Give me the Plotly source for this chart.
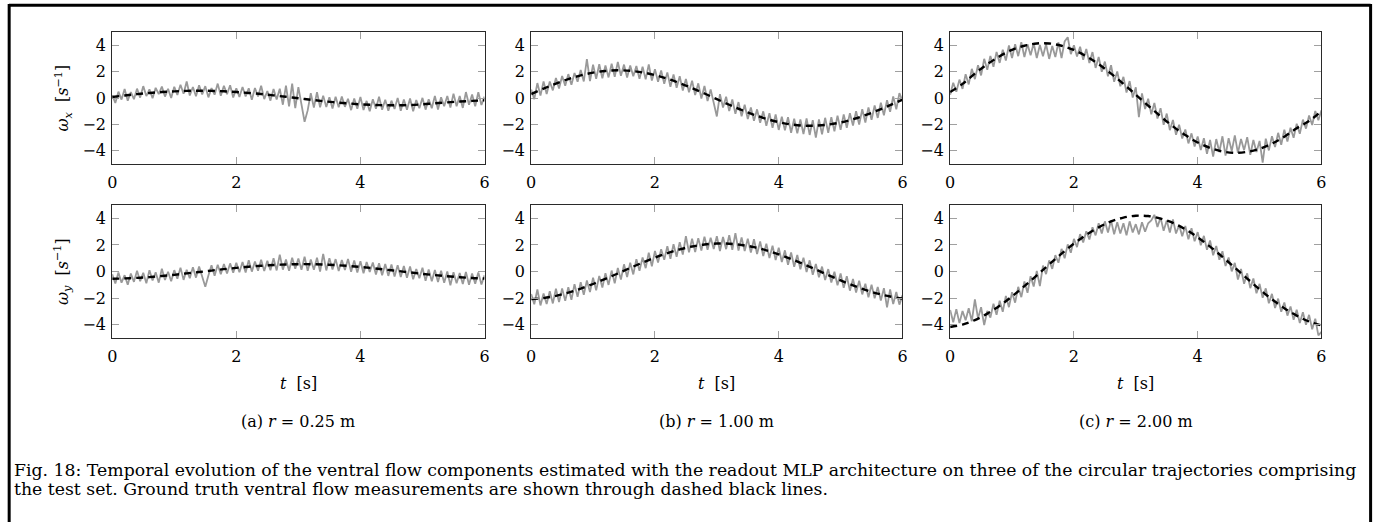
import plotly.graph_objects as go

# ---------------- data ----------------
PANEL_LABELS = ["(a) <i>r</i> = 0.25 m", "(b) <i>r</i> = 1.00 m", "(c) <i>r</i> = 2.00 m"]
X_TICKS = [0, 2, 4, 6]
Y_TICKS = [-4, -2, 0, 2, 4]
CAPTION_1 = ("Fig. 18: Temporal evolution of the ventral flow components estimated with the readout MLP "
             "architecture on three of the circular trajectories comprising")
CAPTION_2 = "the test set. Ground truth ventral flow measurements are shown through dashed black lines."

TRUTH_STEP = 0.2
EST_STEP = 0.05

# ground truth (dashed), sampled every 0.2 s
WX_TRUE_A = [0.08, 0.19, 0.29, 0.38, 0.45, 0.50, 0.54, 0.55, 0.54, 0.51, 0.45, 0.38, 0.30, 0.20, 0.09, -0.02,
             -0.13, -0.24, -0.33, -0.41, -0.48, -0.52, -0.55, -0.55, -0.53, -0.48, -0.40, -0.33, -0.27, -0.22, -0.17]
WX_TRUE_B = [0.30, 0.71, 1.09, 1.43, 1.71, 1.92, 2.05, 2.10, 2.06, 1.94, 1.73, 1.46, 1.13, 0.75, 0.34, -0.09,
             -0.51, -0.91, -1.27, -1.58, -1.83, -2.00, -2.09, -2.09, -2.01, -1.85, -1.61, -1.30, -0.94, -0.54, -0.12]
WX_TRUE_C = [0.45, 1.07, 1.85, 2.56, 3.16, 3.64, 3.96, 4.13, 4.13, 3.96, 3.64, 3.16, 2.56, 1.85, 1.07, 0.25,
             -0.58, -1.39, -2.15, -2.81, -3.37, -3.78, -4.05, -4.15, -4.08, -3.85, -3.45, -2.93, -2.29, -1.75, -1.00]
WY_TRUE_A = [-0.55, -0.52, -0.48, -0.42, -0.34, -0.25, -0.14, -0.04, 0.07, 0.18, 0.27, 0.36, 0.43, 0.49, 0.53, 0.55,
             0.55, 0.52, 0.48, 0.42, 0.34, 0.25, 0.14, 0.04, -0.07, -0.18, -0.27, -0.36, -0.43, -0.49, -0.53]
WY_TRUE_B = [-2.08, -2.00, -1.83, -1.59, -1.29, -0.94, -0.55, -0.15, 0.27, 0.67, 1.05, 1.38, 1.66, 1.88, 2.03, 2.10,
             2.09, 1.99, 1.83, 1.59, 1.29, 0.94, 0.55, 0.15, -0.27, -0.67, -1.05, -1.38, -1.66, -1.88, -2.03]
WY_TRUE_C = [-4.17, -3.99, -3.65, -3.17, -2.57, -1.87, -1.10, -0.29, 0.53, 1.34, 2.09, 2.76, 3.32, 3.76, 4.05, 4.19,
             4.17, 3.98, 3.65, 3.17, 2.57, 1.87, 1.10, 0.29, -0.53, -1.34, -2.09, -2.76, -3.32, -3.76, -4.05]

# MLP estimates (grey), sampled every 0.05 s
WX_EST_A = [0.22, -0.38, 0.48, -0.12, 0.68, -0.21, 0.45, -0.09, 0.71, 0.03,
            0.90, 0.15, 0.66, -0.02, 0.77, 0.29, 0.87, 0.11, 0.69, 0.00,
            0.85, 0.23, 1.01, 0.32, 1.25, 0.19, 0.83, 0.13, 0.97, 0.27,
            0.90, 0.05, 0.75, 0.25, 1.09, 0.17, 0.93, 0.28, 0.97, 0.04,
            0.73, 0.08, 0.84, 0.12, 0.73, -0.13, 0.76, 0.11, 0.93, -0.08,
            0.53, -0.20, 0.69, -0.11, 0.71, -0.51, 0.93, -0.64, 1.09, -0.76,
            0.82, -0.47, -1.80, -0.94, 0.36, -0.72, 0.45, -0.70, 0.18, -0.68,
            0.06, -0.80, 0.09, -0.70, 0.12, -0.67, -0.06, -0.92, -0.03, -0.81,
            0.08, -0.91, -0.22, -1.00, -0.10, -0.81, 0.09, -0.89, -0.13, -0.97,
            -0.20, -0.83, 0.01, -0.97, -0.12, -0.89, -0.04, -1.01, -0.16, -0.78,
            0.01, -0.88, -0.09, -0.77, 0.16, -0.87, 0.05, -0.63, 0.16, -0.73,
            0.33, -0.63, 0.15, -0.75, 0.45, -0.51, 0.27, -0.63, 0.43, -0.53, 0.11]
WX_EST_B = [0.65, -0.09, 1.13, 0.18, 1.26, 0.31, 1.25, 0.58, 1.52, 0.72,
            1.67, 0.93, 1.81, 1.01, 1.89, 1.23, 2.12, 1.25, 2.95, 1.28,
            2.52, 1.46, 2.56, 1.50, 2.47, 1.56, 2.60, 1.61, 2.73, 1.68,
            2.53, 1.55, 2.47, 1.64, 2.42, 1.45, 2.37, 1.41, 2.55, 1.32,
            2.18, 1.23, 2.09, 1.07, 1.94, 0.85, 1.79, 0.78, 1.65, 0.57,
            1.44, 0.43, 1.31, 0.23, 1.11, -0.04, 0.91, -0.23, 0.65, -0.43,
            -1.40, 0.29, -0.72, 0.09, -0.99, -0.11, -1.19, -0.31, -1.39, -0.51,
            -1.59, -0.72, -1.73, -0.86, -1.88, -1.01, -2.10, -1.16, -2.26, -1.25,
            -2.42, -1.42, -2.45, -1.46, -2.63, -1.57, -2.68, -1.62, -2.73, -1.54,
            -2.80, -1.68, -3.00, -1.62, -2.75, -1.50, -2.63, -1.45, -2.52, -1.34,
            -2.41, -1.24, -2.25, -1.15, -2.09, -1.00, -2.01, -0.85, -1.86, -0.71,
            -1.65, -0.57, -1.51, -0.36, -1.31, -0.16, -1.04, 0.11, -0.85, 0.37, -0.23]
WX_EST_C = [0.24, 1.16, 0.47, 1.39, 0.69, 1.80, 1.03, 2.21, 1.43, 2.48,
            1.71, 2.97, 2.13, 3.19, 2.36, 3.49, 2.66, 3.66, 2.84, 3.98,
            3.03, 4.08, 3.17, 4.22, 3.10, 4.08, 3.24, 4.15, 3.03, 4.01,
            3.17, 4.08, 2.96, 3.94, 3.10, 4.22, 3.03, 4.29, 4.60, 3.32,
            4.00, 3.14, 3.89, 2.89, 3.71, 2.65, 3.48, 2.28, 3.11, 1.99,
            2.76, 1.64, 2.48, 1.23, 2.01, 0.89, 1.60, 0.42, 1.28, 0.03,
            0.81, -1.45, 0.35, -0.83, -0.05, -1.23, -0.37, -1.55, -0.77, -2.03,
            -1.18, -2.44, -1.66, -2.78, -2.02, -3.07, -2.38, -3.44, -2.68, -3.68,
            -2.92, -3.95, -3.04, -4.23, -3.18, -4.44, -3.11, -4.09, -2.90, -4.37,
            -3.04, -4.02, -2.83, -4.16, -3.11, -3.95, -2.97, -4.30, -3.18, -4.09,
            -3.25, -4.90, -3.08, -3.97, -2.89, -3.71, -2.64, -3.54, -2.40, -3.30,
            -2.25, -3.01, -1.95, -2.71, -1.64, -2.32, -1.33, -2.04, -0.99, -1.69, -0.93]
WY_EST_A = [-0.20, -0.90, -0.07, -0.84, -0.28, -0.99, -0.15, -0.78, 0.05, -0.73,
            -0.10, -0.88, 0.10, -0.68, -0.06, -0.84, 0.21, -0.64, -0.02, -0.73,
            0.10, -0.54, 0.29, -0.63, 0.13, -0.51, 0.32, -0.46, 0.37, -0.42,
            -1.15, -0.30, 0.46, -0.32, 0.51, -0.20, 0.56, -0.15, 0.61, -0.10,
            0.66, -0.05, 0.71, -0.07, 0.84, -0.01, 0.75, 0.05, 0.88, 0.03,
            0.80, 0.09, 1.00, 0.08, 1.27, 0.14, 0.91, 0.06, 1.04, 0.20,
            0.97, 0.13, 1.11, 0.06, 0.90, 0.13, 1.04, 0.00, 1.33, 0.08,
            0.99, 0.15, 0.93, 0.03, 0.87, 0.11, 0.95, -0.02, 0.83, -0.07,
            0.77, -0.13, 0.72, -0.04, 0.67, -0.23, 0.62, -0.28, 0.57, -0.33,
            0.52, -0.38, 0.47, -0.42, 0.42, -0.47, 0.38, -0.59, 0.19, -0.50,
            0.28, -0.69, 0.16, -0.74, 0.11, -0.79, 0.06, -0.84, 0.00, -1.04,
            -0.05, -0.89, -0.11, -0.94, -0.03, -1.00, -0.15, -0.92, -0.08, -0.98, -0.28]
WY_EST_B = [-1.69, -2.46, -1.35, -2.55, -1.65, -2.44, -1.48, -2.40, -1.30, -2.30,
            -1.28, -2.21, -1.18, -2.13, -0.96, -1.91, -0.81, -1.76, -0.68, -1.55,
            -0.46, -1.41, -0.33, -1.21, -0.13, -1.01, 0.07, -0.88, 0.27, -0.61,
            0.54, -0.42, 0.66, -0.22, 0.93, 0.05, 1.06, 0.25, 1.41, 0.39,
            1.54, 0.67, 1.68, 0.88, 1.90, 0.96, 2.05, 1.11, 2.21, 1.27,
            2.65, 1.44, 2.47, 1.47, 2.51, 1.58, 2.62, 1.63, 2.54, 1.69,
            2.66, 1.54, 2.59, 1.68, 2.73, 1.63, 2.89, 1.57, 2.56, 1.53,
            2.46, 1.42, 2.42, 1.32, 2.26, 1.16, 2.09, 1.01, 1.94, 0.86,
            1.79, 0.71, 1.59, 0.50, 1.44, 0.36, 1.24, 0.16, 1.04, -0.04,
            0.84, -0.24, 0.57, -0.44, 0.37, -0.64, 0.18, -0.83, -0.02, -1.03,
            -0.15, -1.23, -0.36, -1.44, -0.56, -1.58, -0.70, -1.72, -0.92, -1.94,
            -1.00, -2.02, -1.16, -2.18, -1.25, -2.70, -1.35, -2.45, -1.53, -2.49, -1.78]
WY_EST_C = [-2.90, -3.81, -2.83, -3.88, -2.97, -3.67, -2.76, -3.74, -2.10, -3.53,
            -2.69, -4.02, -2.97, -3.46, -2.42, -3.25, -2.19, -3.03, -1.84, -2.68,
            -1.56, -2.34, -1.15, -1.93, -0.75, -1.60, -0.35, -1.13, 0.05, -1.09,
            0.44, -0.20, 0.84, 0.20, 1.23, 0.66, 1.70, 1.00, 2.04, 1.41,
            2.45, 1.83, 2.81, 2.18, 3.03, 2.41, 3.33, 2.72, 3.63, 2.86,
            3.77, 2.93, 3.84, 2.79, 3.70, 2.86, 3.63, 2.72, 3.77, 2.93,
            3.56, 2.79, 3.70, 2.99, 3.63, 3.84, 4.26, 3.35, 4.05, 3.07,
            3.84, 2.93, 3.91, 2.86, 3.49, 2.65, 3.42, 2.43, 3.26, 2.27,
            2.96, 1.98, 2.68, 1.63, 2.33, 1.22, 1.92, 0.88, 1.52, 0.41,
            1.05, 0.01, 0.65, -0.60, 0.19, -0.92, -0.14, -1.25, -0.53, -1.64,
            -0.93, -1.98, -1.27, -2.39, -1.68, -2.74, -2.04, -3.02, -2.33, -3.32,
            -2.63, -3.63, -2.87, -3.88, -3.06, -4.00, -3.26, -4.35, -3.55, -4.80, -4.54]

TRUTH = [WX_TRUE_A, WX_TRUE_B, WX_TRUE_C, WY_TRUE_A, WY_TRUE_B, WY_TRUE_C]
EST = [WX_EST_A, WX_EST_B, WX_EST_C, WY_EST_A, WY_EST_B, WY_EST_C]

# ---------------- layout (pixel geometry of the page) ----------------
W, H = 1390, 522
FONT = "DejaVu Serif"
COL_PX = [(108, 483), (530, 904), (952, 1326)]
ROW_PX = [(32, 164), (205, 338)]


def px_x(x):
    return x / W


def px_y(y):
    return 1 - y / H


fig = go.Figure()

for k in range(6):
    r, c = divmod(k, 3)
    ax = "" if k == 0 else str(k + 1)
    t_est = [round(EST_STEP * i, 2) for i in range(len(EST[k]))]
    t_true = [round(TRUTH_STEP * i, 2) for i in range(len(TRUTH[k]))]
    fig.add_trace(go.Scatter(x=t_est, y=EST[k], mode="lines",
                             line=dict(color="#999999", width=1.8),
                             xaxis="x" + ax, yaxis="y" + ax, showlegend=False, hoverinfo="skip"))
    fig.add_trace(go.Scatter(x=t_true, y=TRUTH[k], mode="lines",
                             line=dict(color="black", width=2.4, dash="7px,5px", shape="spline"),
                             xaxis="x" + ax, yaxis="y" + ax, showlegend=False, hoverinfo="skip"))
    x0, x1 = COL_PX[c]
    y0, y1 = ROW_PX[r]
    common = dict(showline=True, linecolor="#2a2a2a", linewidth=1, mirror="ticks",
                  ticks="inside", ticklen=7, tickwidth=1, tickcolor="#a0a0a0",
                  showgrid=False, zeroline=False,
                  tickfont=dict(family=FONT, size=16, color="black"))
    fig.update_layout(**{
        "xaxis" + ax: dict(domain=[px_x(x0), px_x(x1)], range=[0, 6], tickvals=X_TICKS,
                           anchor="y" + ax, ticklabelstandoff=4, **common),
        "yaxis" + ax: dict(domain=[px_y(y1), px_y(y0)], range=[-5, 5], tickvals=Y_TICKS,
                           anchor="x" + ax, ticklabelstandoff=2, **common),
    })

ann = []
# y axis titles
for r, comp in enumerate(["x", "y"]):
    yc = (ROW_PX[r][0] + ROW_PX[r][1]) / 2
    ann.append(dict(x=px_x(58), y=px_y(yc), xref="paper", yref="paper", textangle=-90,
                    text=f"<i>ω<sub>{comp}</sub></i>  [<i>s</i><sup>−1</sup>]",
                    showarrow=False, font=dict(family=FONT, size=16, color="black"),
                    xanchor="center", yanchor="middle"))
# x axis titles and sub-captions
for c in range(3):
    xc = (COL_PX[c][0] + COL_PX[c][1]) / 2
    ann.append(dict(x=px_x(xc), y=px_y(383), xref="paper", yref="paper",
                    text="<i>t</i>  [s]", showarrow=False,
                    font=dict(family=FONT, size=16, color="black"), xanchor="center", yanchor="middle"))
    ann.append(dict(x=px_x(xc), y=px_y(421), xref="paper", yref="paper",
                    text=PANEL_LABELS[c], showarrow=False,
                    font=dict(family=FONT, size=16, color="black"), xanchor="center", yanchor="middle"))
# caption
for line, yc in [(CAPTION_1, 470), (CAPTION_2, 489)]:
    ann.append(dict(x=px_x(7), y=px_y(yc), xref="paper", yref="paper", text=line,
                    showarrow=False, font=dict(family=FONT, size=17.3, color="black"),
                    xanchor="left", yanchor="middle"))

# outer frame of the figure page
frame = [
    dict(type="line", xref="paper", yref="paper", x0=px_x(4), x1=px_x(1375.5),
         y0=px_y(5.3), y1=px_y(5.3), line=dict(color="black", width=3)),
    dict(type="line", xref="paper", yref="paper", x0=px_x(4.2), x1=px_x(4.2),
         y0=0, y1=px_y(4), line=dict(color="black", width=3)),
    dict(type="line", xref="paper", yref="paper", x0=px_x(1375.5), x1=px_x(1375.5),
         y0=0, y1=px_y(4), line=dict(color="black", width=3)),
]

fig.update_layout(width=W, height=H, margin=dict(l=0, r=0, t=0, b=0),
                  paper_bgcolor="white", plot_bgcolor="white",
                  annotations=ann, shapes=frame, showlegend=False)

fig.write_html("out.html",
               config={"displayModeBar": False},
               post_script=("document.documentElement.style.overflow='hidden';"
                            "document.body.style.overflow='hidden';"
                            "document.body.style.margin='0';"))
